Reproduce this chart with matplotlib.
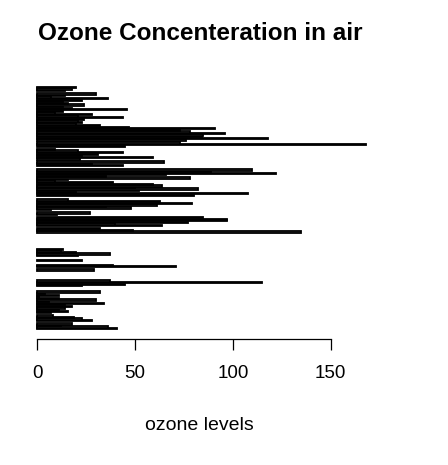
import numpy as np
import matplotlib.pyplot as plt

plt.rcParams['font.family'] = ['Liberation Sans', 'DejaVu Sans']

nan = np.nan
# airquality$Ozone, May..September (153 days)
ozone = [41, 36, 12, 18, nan, 28, 23, 19, 8, nan, 7, 16, 11, 14, 18, 14, 34, 6, 30, 11,
         1, 11, 4, 32, nan, nan, nan, 23, 45, 115, 37,
         nan, nan, nan, nan, nan, nan, 29, nan, 71, 39, nan, nan, 23, nan, nan, 21, 37, 20, 12,
         13, nan, nan, nan, nan, nan, nan, nan, nan, nan, nan,
         135, 49, 32, nan, 64, 40, 77, 97, 97, 85, nan, 10, 27, nan, 7, 48, 35, 61, 79, 63,
         16, nan, nan, 80, 108, 20, 52, 82, 50, 64, 59,
         39, 9, 16, 78, 35, 66, 122, 89, 110, nan, nan, 44, 28, 65, nan, 22, 59, 23, 31, 44,
         21, 9, nan, 45, 168, 73, nan, 76, 118, 84, 85,
         96, 78, 73, 91, 47, 32, 20, 23, 21, 24, 44, 21, 28, 9, 13, 46, 18, 13, 24, 16,
         13, 23, 36, 7, 14, 30, nan, 14, 18, 20]
xticks = [0, 50, 100, 150]

vals = np.array(ozone, dtype=float)
n = len(vals)
# R barplot layout: width 1, space 0.2
ypos = 0.7 + 1.2 * np.arange(n)

fig = plt.figure(figsize=(4.48, 4.65), dpi=100)
ax = fig.add_axes([0.0536, 0.271, 0.7924, 0.563])

ok = ~np.isnan(vals)
ax.barh(ypos[ok], vals[ok], height=1.0, color='#8a8a8a', edgecolor='black', linewidth=1.3)

xmax = np.nanmax(vals)
ax.set_xlim(-0.04 * xmax, xmax * 1.04)
ylo, yhi = 0.2, ypos[-1] + 0.5
pad = 0.04 * (yhi - ylo)
ax.set_ylim(ylo - pad, yhi + pad)

for s in ['top', 'right', 'left']:
    ax.spines[s].set_visible(False)
ax.spines['bottom'].set_bounds(0, 150)
ax.spines['bottom'].set_linewidth(0.9)
ax.set_yticks([])
ax.set_xticks(xticks)
ax.set_xticklabels([str(t) for t in xticks], fontsize=13.5)
ax.tick_params(axis='x', length=8, width=0.9, pad=11)

fig.text(0.446, 0.929, 'Ozone Concenteration in air', ha='center', va='center',
         fontsize=17.5, fontweight='bold')
fig.text(0.446, 0.086, 'ozone levels', ha='center', va='center', fontsize=14)

fig.savefig('out.png', dpi=100)
